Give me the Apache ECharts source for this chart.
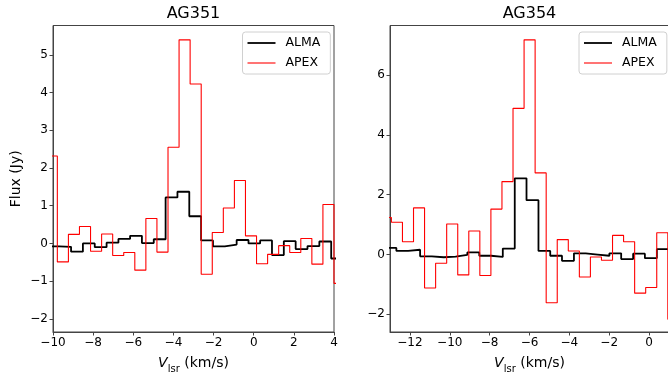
<!DOCTYPE html>
<html>
<head>
<meta charset="utf-8">
<script src="https://cdn.jsdelivr.net/npm/echarts@6/dist/echarts.min.js"></script>
<style>
html,body{margin:0;padding:0;background:#fff;}
#chart{width:668px;height:374px;}
</style>
</head>
<body>
<div id="chart"></div>
<script>
// ---------- data ----------
const titles = ['AG351', 'AG354'];
const seriesNames = ['ALMA', 'APEX'];

// AG351 – channel edges (km/s) and flux (Jy) per channel
const leftAlmaEdges = [-10.28, -9.69, -9.10, -8.51, -7.92, -7.33, -6.74, -6.16, -5.57, -4.98, -4.39, -3.80, -3.21, -2.62, -2.03, -1.44, -0.85, -0.26, 0.32, 0.91, 1.50, 2.09, 2.68, 3.27, 3.86, 4.45];
const leftAlmaFlux = [-0.08, -0.09, -0.22, 0.00, -0.10, 0.02, 0.12, 0.20, 0.01, 0.11, 1.22, 1.37, 0.72, 0.08, -0.08, -0.03, 0.09, 0.00, 0.08, -0.31, 0.06, -0.15, -0.07, 0.05, -0.40];
const leftApexEdges = [-10.335, -9.784, -9.232, -8.681, -8.130, -7.578, -7.027, -6.476, -5.924, -5.373, -4.822, -4.270, -3.719, -3.168, -2.616, -2.065, -1.514, -0.962, -0.411, 0.140, 0.692, 1.243, 1.794, 2.346, 2.897, 3.448, 3.999, 4.550];
const leftApexFlux = [2.32, -0.49, 0.24, 0.45, -0.21, 0.25, -0.32, -0.24, -0.71, 0.66, -0.23, 2.55, 5.40, 4.23, -0.82, 0.29, 0.94, 1.67, 0.20, -0.54, -0.29, -0.06, -0.24, 0.13, -0.55, 1.03, -1.06];

// AG354
const rightAlmaEdges = [-13.27, -12.68, -12.09, -11.49, -10.90, -10.30, -9.71, -9.12, -8.52, -7.93, -7.34, -6.74, -6.15, -5.55, -4.96, -4.37, -3.77, -3.18, -2.58, -1.99, -1.40, -0.80, -0.21, 0.39, 0.98];
const rightAlmaFlux = [0.22, 0.12, 0.16, -0.06, -0.09, -0.07, -0.01, 0.07, -0.04, -0.08, 0.20, 2.55, 1.82, 0.12, -0.04, -0.21, 0.04, 0.00, -0.04, 0.04, -0.15, 0.03, -0.12, 0.18];
const rightApexEdges = [-13.485, -12.930, -12.375, -11.820, -11.266, -10.711, -10.156, -9.601, -9.046, -8.492, -7.937, -7.382, -6.827, -6.272, -5.718, -5.163, -4.608, -4.053, -3.498, -2.944, -2.389, -1.834, -1.279, -0.724, -0.170, 0.385, 0.940, 1.495];
const rightApexFlux = [1.24, 1.08, 0.43, 1.56, -1.12, -0.29, 1.02, -0.68, 0.79, -0.70, 1.52, 2.44, 4.89, 7.18, 2.73, -1.61, 0.50, 0.12, -0.75, -0.08, -0.19, 0.64, 0.43, -1.29, -1.10, 0.73, -2.16];

// axis ranges and tick labels
const leftXRange = [-10, 4];
const leftYRange = [-2.35, 5.78];
const rightXRange = [-13, 1.0];
const rightYRange = [-2.59, 7.66];
const leftXTicks = [-10, -8, -6, -4, -2, 0, 2, 4];
const leftYTicks = [-2, -1, 0, 1, 2, 3, 4, 5];
const rightXTicks = [-12, -10, -8, -6, -4, -2, 0];
const rightYTicks = [-2, 0, 2, 4, 6];

// ---------- chart ----------
const FONT = 'DejaVu Sans';
const AX = '#444';
const LINE_W = [1.8, 1.1];
const COLORS = ['#000000', '#ff0000'];

function stepData(edges, flux) {
  const d = flux.map((f, i) => [edges[i], f]);
  d.push([edges[flux.length], flux[flux.length - 1]]);
  return d;
}
const fmt = v => String(v).replace('-', '\u2212');

function xAxis(gi, range, ticks) {
  return {
    type: 'value', gridIndex: gi, min: range[0], max: range[1],
    axisLine: {show: true, onZero: false, lineStyle: {color: AX, width: 1}},
    axisTick: {show: true, inside: false, length: 3.5, lineStyle: {color: AX, width: 1}, customValues: ticks},
    axisLabel: {show: true, customValues: ticks, formatter: fmt, margin: 5, color: '#000', fontSize: 12, fontFamily: FONT},
    splitLine: {show: false},
    name: '{v|V}{s|lsr}{n| (km/s)}',
    nameLocation: 'middle', nameGap: 20,
    nameTextStyle: {
      color: '#000', fontFamily: FONT, fontSize: 14,
      rich: {
        v: {fontSize: 14, fontStyle: 'italic', fontFamily: FONT, color: '#000', lineHeight: 22, verticalAlign: 'middle'},
        s: {fontSize: 10, fontFamily: FONT, color: '#000', lineHeight: 22, verticalAlign: 'bottom'},
        n: {fontSize: 14, fontFamily: FONT, color: '#000', lineHeight: 22, verticalAlign: 'middle'}
      }
    }
  };
}
function yAxis(gi, range, ticks, name) {
  return {
    type: 'value', gridIndex: gi, min: range[0], max: range[1],
    axisLine: {show: true, onZero: false, lineStyle: {color: AX, width: 1}},
    axisTick: {show: true, inside: false, length: 3.5, lineStyle: {color: AX, width: 1}, customValues: ticks},
    axisLabel: {show: true, customValues: ticks, formatter: fmt, margin: 5, color: '#000', fontSize: 12, fontFamily: FONT},
    splitLine: {show: false},
    name: name || '', nameLocation: 'middle', nameGap: 30,
    nameTextStyle: {color: '#000', fontFamily: FONT, fontSize: 14}
  };
}
function legend(left) {
  return {
    data: [
      {name: seriesNames[0], icon: 'path://M0 0H100V6.4H0Z', itemStyle: {color: COLORS[0]}},
      {name: seriesNames[1], icon: 'path://M0 0H100V3.9H0Z', itemStyle: {color: COLORS[1]}}
    ],
    orient: 'vertical', left: left, top: 32,
    itemWidth: 28, itemHeight: 12, itemGap: 6, symbolKeepAspect: true,
    padding: [4, 10, 4, 5],
    backgroundColor: 'rgba(255,255,255,0.85)', borderColor: '#d0d0d0', borderWidth: 1, borderRadius: 3,
    textStyle: {fontSize: 12.5, fontFamily: FONT, color: '#000', lineHeight: 14, padding: [0, 0, 0, 5]},
    selectedMode: false
  };
}
function line(idx, xi, data) {
  return {
    name: seriesNames[idx], type: 'line', xAxisIndex: xi, yAxisIndex: xi, data: data,
    step: 'end', symbol: 'none', showSymbol: false, clip: true, animation: false,
    lineStyle: {color: COLORS[idx], width: LINE_W[idx]}, itemStyle: {color: COLORS[idx]}
  };
}

const chart = echarts.init(document.getElementById('chart'), null, {renderer: 'canvas'});
chart.setOption({
  backgroundColor: '#fff',
  animation: false,
  textStyle: {fontFamily: FONT},
  grid: [
    {left: 53, top: 25.5, width: 281, height: 306.5, show: true, borderColor: AX, borderWidth: 1, backgroundColor: 'transparent', containLabel: false, outerBoundsMode: 'none'},
    {left: 390, top: 25.5, width: 279, height: 306.5, show: true, borderColor: AX, borderWidth: 1, backgroundColor: 'transparent', containLabel: false, outerBoundsMode: 'none'}
  ],
  xAxis: [xAxis(0, leftXRange, leftXTicks), xAxis(1, rightXRange, rightXTicks)],
  yAxis: [yAxis(0, leftYRange, leftYTicks, 'Flux (Jy)'), yAxis(1, rightYRange, rightYTicks, '')],
  legend: [legend(242.5), legend(579)],
  graphic: [
    {type: 'text', x: 193.5, y: 14, style: {text: titles[0], align: 'center', verticalAlign: 'middle', fontSize: 16, fontFamily: FONT, fill: '#000'}},
    {type: 'text', x: 529.5, y: 14, style: {text: titles[1], align: 'center', verticalAlign: 'middle', fontSize: 16, fontFamily: FONT, fill: '#000'}}
  ],
  series: [
    line(0, 0, stepData(leftAlmaEdges, leftAlmaFlux)),
    line(1, 0, stepData(leftApexEdges, leftApexFlux)),
    line(0, 1, stepData(rightAlmaEdges, rightAlmaFlux)),
    line(1, 1, stepData(rightApexEdges, rightApexFlux))
  ]
});
</script>
</body>
</html>
